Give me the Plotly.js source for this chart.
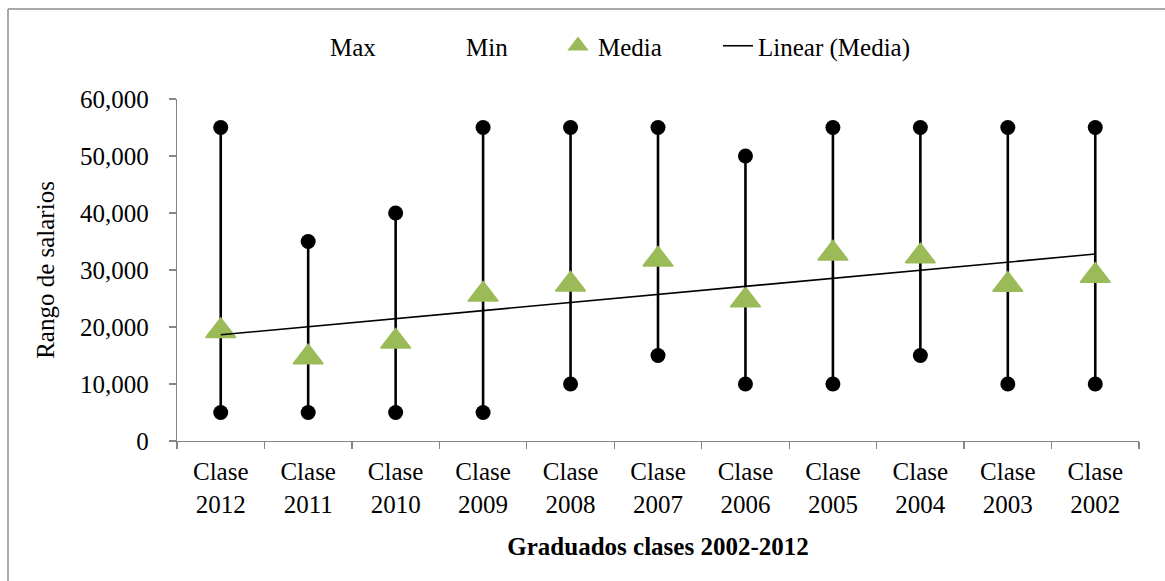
<!DOCTYPE html>
<html>
<head>
<meta charset="utf-8">
<script src="https://cdn.plot.ly/plotly-3.0.1.min.js"></script>
<style>
  html, body { margin: 0; padding: 0; background: #ffffff; }
  #chart { width: 1165px; height: 581px; }
</style>
</head>
<body>
<div id="chart"></div>
<script>
// ---- data ----
const categories = ['Clase 2012', 'Clase 2011', 'Clase 2010', 'Clase 2009', 'Clase 2008', 'Clase 2007',
                    'Clase 2006', 'Clase 2005', 'Clase 2004', 'Clase 2003', 'Clase 2002'];
const tickLabels = ['Clase<br>2012', 'Clase<br>2011', 'Clase<br>2010', 'Clase<br>2009', 'Clase<br>2008', 'Clase<br>2007',
                    'Clase<br>2006', 'Clase<br>2005', 'Clase<br>2004', 'Clase<br>2003', 'Clase<br>2002'];
const maxValues = [55000, 35000, 40000, 55000, 55000, 55000, 50000, 55000, 55000, 55000, 55000];
const minValues = [5000, 5000, 5000, 5000, 10000, 15000, 10000, 10000, 15000, 10000, 10000];
const mediaValues = [19300, 14700, 17450, 25700, 27450, 31850, 24700, 32900, 32400, 27400, 29000];
const seriesNames = ['Max', 'Min', 'Media', 'Linear (Media)'];

// ---- linear trend of Media (least squares over category index 1..n) ----
const n = mediaValues.length;
const xs = mediaValues.map((_, i) => i + 1);
const mx = xs.reduce((a, b) => a + b, 0) / n;
const my = mediaValues.reduce((a, b) => a + b, 0) / n;
let sxy = 0, sxx = 0;
for (let i = 0; i < n; i++) { sxy += (xs[i] - mx) * (mediaValues[i] - my); sxx += (xs[i] - mx) ** 2; }
const slope = sxy / sxx;
const intercept = my - slope * mx;
const trendValues = xs.map(x => intercept + slope * x);

const FONT = '"Liberation Serif", "Times New Roman", Times, serif';
const GREEN = '#9BBB59';
const AXIS = '#868686';

const traces = [
  { // Max points with the range stem down to Min
    type: 'scatter', mode: 'markers', name: seriesNames[0], showlegend: false,
    x: categories, y: maxValues,
    marker: { symbol: 'circle', size: 15, color: '#000000' },
    error_y: { type: 'data', symmetric: false,
               array: maxValues.map(() => 0),
               arrayminus: maxValues.map((v, i) => v - minValues[i]),
               width: 0, thickness: 2.6, color: '#000000' }
  },
  {
    type: 'scatter', mode: 'markers', name: seriesNames[1], showlegend: false,
    x: categories, y: minValues,
    marker: { symbol: 'circle', size: 15, color: '#000000' }
  },
  {
    type: 'scatter', mode: 'markers', name: seriesNames[2], legend: 'legend3',
    x: categories, y: mediaValues,
    marker: { symbol: 'triangle-up', size: 26, color: GREEN, line: { width: 1.5, color: GREEN } }
  },
  {
    type: 'scatter', mode: 'lines', name: seriesNames[3], legend: 'legend4',
    x: categories, y: trendValues,
    line: { color: '#000000', width: 1.6 }
  },
  // legend-only entries for Max and Min (no visible symbol, as in the reference)
  { type: 'scatter', mode: 'markers', name: seriesNames[0], legend: 'legend',
    x: [null], y: [null], marker: { color: 'rgba(0,0,0,0)', size: 1 }, hoverinfo: 'skip' },
  { type: 'scatter', mode: 'markers', name: seriesNames[1], legend: 'legend2',
    x: [null], y: [null], marker: { color: 'rgba(0,0,0,0)', size: 1 }, hoverinfo: 'skip' }
];

const L = 177, R = 26, T = 99, B = 140, W = 1165, H = 581;
const PW = W - L - R, PH = H - T - B;
const px = v => (v - L) / PW;
const py = v => (H - B - v) / PH;

function legendAt(textStartPx) {
  return {
    x: px(textStartPx - 40), y: py(46), xanchor: 'left', yanchor: 'middle',
    orientation: 'h', bgcolor: 'rgba(0,0,0,0)', borderwidth: 0,
    font: { family: FONT, size: 25, color: '#000000' }
  };
}

const layout = {
  width: W, height: H,
  margin: { l: L, r: R, t: T, b: B, pad: 0 },
  paper_bgcolor: '#ffffff', plot_bgcolor: '#ffffff',
  font: { family: FONT, size: 25, color: '#000000' },
  showlegend: true,
  legend: legendAt(330),
  legend2: legendAt(466),
  legend3: legendAt(598),
  legend4: legendAt(758),
  xaxis: {
    type: 'category', categoryorder: 'array', categoryarray: categories,
    tickvals: categories, ticktext: tickLabels,
    tickson: 'boundaries', ticks: 'outside', ticklen: 7, tickwidth: 1.3, tickcolor: AXIS,
    showline: true, linecolor: AXIS, linewidth: 1.3,
    showgrid: false, zeroline: false,
    tickfont: { family: FONT, size: 25, color: '#000000' },
    ticklabelstandoff: 8,
    title: { text: '<b>Graduados clases 2002-2012</b>', font: { family: FONT, size: 25, color: '#000000' }, standoff: 20 },
    range: [-0.5, categories.length - 0.5], fixedrange: true
  },
  yaxis: {
    range: [0, 60000], tickvals: [0, 10000, 20000, 30000, 40000, 50000, 60000],
    tickformat: ',d', ticks: 'outside', ticklen: 7, tickwidth: 1.3, tickcolor: AXIS,
    showline: true, linecolor: AXIS, linewidth: 1.3,
    showgrid: false, zeroline: false,
    tickfont: { family: FONT, size: 25, color: '#000000' },
    ticklabelstandoff: 15,
    title: { text: 'Rango de salarios', font: { family: FONT, size: 25, color: '#000000' }, standoff: 18 },
    fixedrange: true
  },
  shapes: [
    { type: 'line', xref: 'paper', yref: 'paper', x0: px(8), x1: px(8), y0: py(9), y1: py(H + 5),
      line: { color: '#8c8c8c', width: 1.5 } },
    { type: 'line', xref: 'paper', yref: 'paper', x0: px(8), x1: px(W + 5), y0: py(9), y1: py(9),
      line: { color: '#8c8c8c', width: 1.5 } }
  ]
};

Plotly.newPlot('chart', traces, layout, { displayModeBar: false, staticPlot: true });
</script>
</body>
</html>
